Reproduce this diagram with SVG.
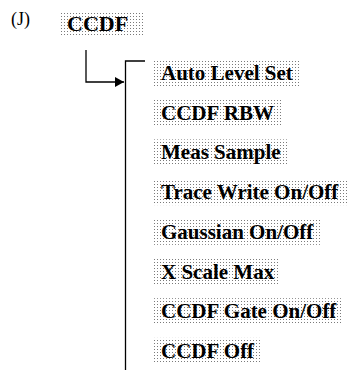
<svg xmlns="http://www.w3.org/2000/svg" width="356" height="372" viewBox="0 0 356 372">
<defs>
<pattern id="dots" width="3" height="3" patternUnits="userSpaceOnUse">
<rect width="3" height="3" fill="#ffffff"/>
<rect x="1" y="1" width="1" height="1" fill="#7a7a7a"/>
</pattern>
<marker id="arr" markerWidth="10" markerHeight="10" refX="9" refY="5" orient="auto" markerUnits="userSpaceOnUse">
<path d="M0,0 L9,5 L0,10 Z" fill="#000"/>
</marker>
<style>
.box{fill:url(#dots);stroke:none}
.t{font-family:"Liberation Serif","DejaVu Serif",serif;font-weight:bold;font-size:21px;fill:#000}
.h{font-family:"Liberation Serif","DejaVu Serif",serif;font-weight:bold;font-size:22px;fill:#000}
.lbl{font-family:"Liberation Serif","DejaVu Serif",serif;font-size:18px;fill:#000}
.ln{fill:none;stroke:#000;stroke-width:1.3}
</style>
</defs>
<text class="lbl" x="11" y="25">(J)</text>
<g id="ccdf"><rect class="box" x="61" y="12" width="83" height="25"/><text class="h" x="67" y="31">CCDF</text></g>
<g id="connectors">
<path class="ln" d="M86,50 V82 H124" marker-end="url(#arr)"/>
<path class="ln" d="M145,61 H125.5 V370"/>
</g>
<g id="n1"><rect class="box" x="153" y="60" width="146" height="26"/><text class="t" x="161" y="80">Auto Level Set</text></g>
<g id="n2"><rect class="box" x="153" y="99.7" width="128" height="26"/><text class="t" x="161" y="119.7">CCDF RBW</text></g>
<g id="n3"><rect class="box" x="153" y="139.4" width="134" height="26"/><text class="t" x="161" y="159.4">Meas Sample</text></g>
<g id="n4"><rect class="box" x="153" y="179.1" width="194" height="26"/><text class="t" x="161" y="199.1">Trace Write On/Off</text></g>
<g id="n5"><rect class="box" x="153" y="218.8" width="167" height="26"/><text class="t" x="161" y="238.8">Gaussian On/Off</text></g>
<g id="n6"><rect class="box" x="153" y="258.5" width="127" height="26"/><text class="t" x="161" y="278.5">X Scale Max</text></g>
<g id="n7"><rect class="box" x="153" y="298.2" width="190" height="26"/><text class="t" x="161" y="318.2">CCDF Gate On/Off</text></g>
<g id="n8"><rect class="box" x="153" y="337.9" width="108" height="26"/><text class="t" x="161" y="357.9">CCDF Off</text></g>
</svg>
